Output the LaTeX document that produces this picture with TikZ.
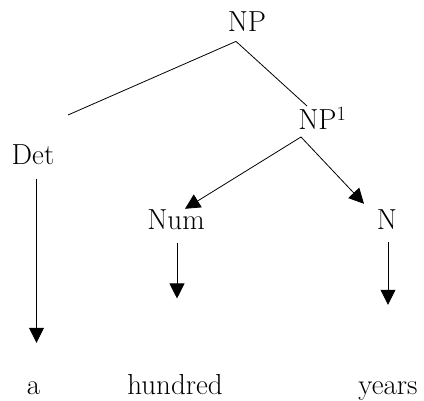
\documentclass[tikz,border=0pt]{standalone}
\usetikzlibrary{arrows.meta}
\begin{document}
\begin{tikzpicture}[x=1pt,y=1pt,>={Triangle[length=15pt,width=15pt]},line width=.8pt,
    font=\fontsize{29}{33}\selectfont,inner sep=0pt]
            \def\W{424} \def\H{401}
            \useasboundingbox (0,0) rectangle (\W,\H);
            %\draw[color=gray!50,dashed] (0,0) grid[step=20] (\W,\H);
            \node (np) at (247,369)[anchor=base]{NP};
            \node (np1) at (298,271)[anchor=base west]{NP\textsuperscript{1}};
            \node (det) at (33,236)[anchor=base]{Det};
            \node (num) at (176,171)[anchor=base]{Num};
            \node (n) at (387,171)[anchor=base]{N};
            \node (a) at (33.5,6)[anchor=base]{a};
            \node (hundred) at (175,6)[anchor=base]{hundred};
            \node (years) at (388,6)[anchor=base]{years};
            \coordinate (fork) at ([shift={(-11,-9)}]np.south);
            \coordinate (detend) at (68,286);
            \draw (fork)--(detend);
            \draw (fork)--([shift={(9,24)}]np1.base west);
            \draw[->] ([shift={(3,-7)}]np1.base west)--([shift={(9,1)}]num.north);
            \draw[->] ([shift={(3,-7)}]np1.base west)--([shift={(-23,6)}]n.north);
            \draw[->,shorten <=13pt,shorten >=39pt] ([xshift=3.5pt]det.south)--([xshift=3pt]a.north);
            \draw[->,shorten <=12pt,shorten >=76pt] ([xshift=1pt]num.south)--([xshift=2pt]hundred.north);
            \draw[->,shorten <=12pt,shorten >=77pt] ([xshift=1pt]n.south)--([xshift=0pt]years.north);
        \end{tikzpicture}
\end{document}
